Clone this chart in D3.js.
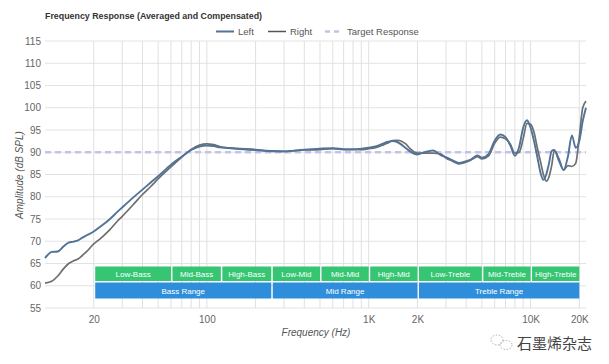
<!DOCTYPE html>
<html><head><meta charset="utf-8">
<script src="https://cdn.jsdelivr.net/npm/d3@7"></script>
<style>
html,body{margin:0;padding:0;background:#fff;}
svg{display:block;font-family:"Liberation Sans",Arial,sans-serif;}
</style></head>
<body>
<svg id="chart" width="609" height="364"></svg>
<script>
const freqs = [10,11,12,13,14,15,16,17,18,20,22,25,28,30,35,40,45,50,60,70,80,90,100,110,120,150,200,250,300,400,500,600,700,800,900,1000,1100,1200,1300,1400,1500,1700,1800,2000,2200,2500,2800,3000,3300,3600,4000,4300,4700,5000,5500,6000,6500,7000,7500,8000,8500,9000,9500,10000,10500,11000,11500,12000,12500,13000,13500,14000,15000,16000,17000,18000,19000,20000,21000,22000];
const leftDb = [66.2,67.6,67.7,68.8,69.7,69.9,70.2,70.8,71.3,72.2,73.3,74.9,76.6,77.6,79.8,81.6,83.2,84.6,87.2,89.0,90.5,91.3,91.5,91.4,91.1,90.8,90.5,90.3,90.2,90.6,90.8,90.9,90.7,90.6,90.8,91.0,91.3,91.8,92.3,92.5,92.3,90.9,90.2,89.5,90.0,90.4,89.3,88.9,88.2,87.6,88.0,88.4,89.3,88.8,89.6,92.6,94.0,93.4,91.5,89.2,91.2,95.5,97.2,95.5,92.5,89.0,85.5,83.8,85.0,87.5,90.3,90.5,88.0,86.0,89.0,93.8,91.0,92.5,97.0,100.0];
const rightDb = [60.6,61.0,62.2,63.8,65.0,65.6,66.0,66.8,67.6,69.4,70.6,72.5,74.5,75.6,78.2,80.5,82.3,84.0,86.7,88.9,90.6,91.6,91.9,91.7,91.3,90.9,90.6,90.2,90.2,90.5,90.6,90.8,90.6,90.7,90.6,90.8,91.0,91.5,92.0,92.6,92.7,91.8,90.8,89.8,89.8,89.8,89.6,88.7,88.0,87.4,87.8,88.3,89.0,88.5,89.2,92.0,93.4,93.0,91.8,89.8,90.0,93.0,96.5,96.3,94.5,91.0,88.0,85.0,83.5,84.5,87.0,90.3,88.5,86.0,87.0,86.8,87.5,93.5,100.0,101.5];
const targetDb = 90;
const yTicks = [55,60,65,70,75,80,85,90,95,100,105,110,115];
const xGrid = [20,30,40,50,60,70,80,90,100,200,300,400,500,600,700,800,900,1000,2000,3000,4000,5000,6000,7000,8000,9000,10000,20000];
const xTickVals = [20,100,1000,2000,10000,20000];
const xTickLabels = ["20","100","1K","2K","10K","20K"];
const subBands = [
  {name:"Low-Bass",f0:20,f1:60},{name:"Mid-Bass",f0:60,f1:122},{name:"High-Bass",f0:122,f1:250},
  {name:"Low-Mid",f0:250,f1:500},{name:"Mid-Mid",f0:500,f1:1000},{name:"High-Mid",f0:1000,f1:2000},
  {name:"Low-Treble",f0:2000,f1:5000},{name:"Mid-Treble",f0:5000,f1:10000},{name:"High-Treble",f0:10000,f1:20000}];
const ranges = [
  {name:"Bass Range",f0:20,f1:250},{name:"Mid Range",f0:250,f1:2000},{name:"Treble Range",f0:2000,f1:20000}];

const svg = d3.select("#chart");
const L=45, R=586, T=41, B=308;
const x = d3.scaleLog().domain([10,22000]).range([L,R]);
const y = d3.scaleLinear().domain([55,115]).range([B,T]);

// grid
const g = svg.append("g");
g.selectAll(".hg").data(yTicks).join("line")
  .attr("x1",L).attr("x2",R).attr("y1",d=>y(d)).attr("y2",d=>y(d))
  .attr("stroke","#e3e3e3").attr("stroke-width",1);
g.selectAll(".vg").data(xGrid).join("line")
  .attr("x1",d=>x(d)).attr("x2",d=>x(d)).attr("y1",T).attr("y2",B)
  .attr("stroke","#e0e0e0").attr("stroke-width",1);

// y axis labels
const yAxis = d3.axisLeft(y).tickValues(yTicks).tickSize(0).tickPadding(4);
svg.append("g").attr("transform",`translate(${L},0)`).call(yAxis)
  .call(s=>s.select(".domain").remove())
  .selectAll("text").attr("fill","#666").style("font-size","10px").style("font-family","Liberation Sans, Arial, sans-serif");
// x axis labels
const xAxis = d3.axisBottom(x).tickValues(xTickVals).tickFormat((d,i)=>xTickLabels[i]).tickSize(0).tickPadding(8);
svg.append("g").attr("transform",`translate(0,${B})`).call(xAxis)
  .call(s=>s.select(".domain").remove())
  .selectAll("text").attr("fill","#666").style("font-size","10px").style("font-family","Liberation Sans, Arial, sans-serif");

// bands
const bg = svg.append("g");
bg.selectAll(".sb").data(subBands).join("rect")
  .attr("x",d=>x(d.f0)+1.5).attr("width",d=>x(d.f1)-x(d.f0)-1.5)
  .attr("y",266.5).attr("height",14.5).attr("fill","#36c572");
bg.selectAll(".sbt").data(subBands).join("text")
  .attr("x",d=>(x(d.f0)+1.5+x(d.f1))/2).attr("y",277).attr("text-anchor","middle")
  .attr("fill","#fff").style("font-size","8px").text(d=>d.name);
bg.selectAll(".rb").data(ranges).join("rect")
  .attr("x",d=>x(d.f0)+1.5).attr("width",d=>x(d.f1)-x(d.f0)-1.5)
  .attr("y",282.5).attr("height",16).attr("fill","#2f8edb");
bg.selectAll(".rbt").data(ranges).join("text")
  .attr("x",d=>(x(d.f0)+1.5+x(d.f1))/2).attr("y",294).attr("text-anchor","middle")
  .attr("fill","#fff").style("font-size","8px").text(d=>d.name);

// target
svg.append("line").attr("x1",L).attr("x2",R).attr("y1",y(targetDb)).attr("y2",y(targetDb))
  .attr("stroke","#c3c3e8").attr("stroke-width",2.5).attr("stroke-dasharray","6,4");

// curves
const line = d3.line().x((d,i)=>x(freqs[i])).y(d=>y(d)).curve(d3.curveMonotoneX);
svg.append("path").attr("d",line(rightDb)).attr("fill","none").attr("stroke","#6e6e6e").attr("stroke-width",1.7);
svg.append("path").attr("d",line(leftDb)).attr("fill","none").attr("stroke","#4f7399").attr("stroke-width",1.9);

// title
svg.append("text").attr("x",45).attr("y",19).attr("fill","#333").style("font-size","9px").style("font-weight","bold")
  .attr("textLength",217).attr("lengthAdjust","spacingAndGlyphs")
  .text("Frequency Response (Averaged and Compensated)");

// legend
const leg = [
  {t:"Left",x:216,c:"#4f7399",dash:null,w:2},
  {t:"Right",x:268,c:"#555",dash:null,w:1.5},
  {t:"Target Response",x:325,c:"#c3c3e8",dash:"5,4",w:2.5}];
const lg = svg.append("g");
leg.forEach(d=>{
  lg.append("line").attr("x1",d.x).attr("x2",d.x+18).attr("y1",31.5).attr("y2",31.5)
    .attr("stroke",d.c).attr("stroke-width",d.w).attr("stroke-dasharray",d.dash);
  lg.append("text").attr("x",d.x+22).attr("y",35).attr("fill","#555").style("font-size","9.5px").text(d.t);
});

// axis titles
svg.append("text").attr("transform","translate(23,175) rotate(-90)").attr("text-anchor","middle")
  .attr("fill","#555").style("font-size","10px").style("font-style","italic").text("Amplitude (dB SPL)");
svg.append("text").attr("x",316).attr("y",336).attr("text-anchor","middle")
  .attr("fill","#555").style("font-size","10px").style("font-style","italic").text("Frequency (Hz)");

// watermark
const wm = svg.append("g").attr("fill","none").attr("stroke","#999").attr("stroke-width",0.8).attr("stroke-dasharray","1.5,1.5");
wm.append("ellipse").attr("cx",497).attr("cy",340).attr("rx",6).attr("ry",5);
wm.append("ellipse").attr("cx",506).attr("cy",345).attr("rx",6).attr("ry",4.5);
svg.append("text").attr("x",517).attr("y",349).attr("fill","#444")
  .style("font-family","Noto Sans CJK SC").style("font-size","15px").text("石墨烯杂志");
</script>
</body></html>
